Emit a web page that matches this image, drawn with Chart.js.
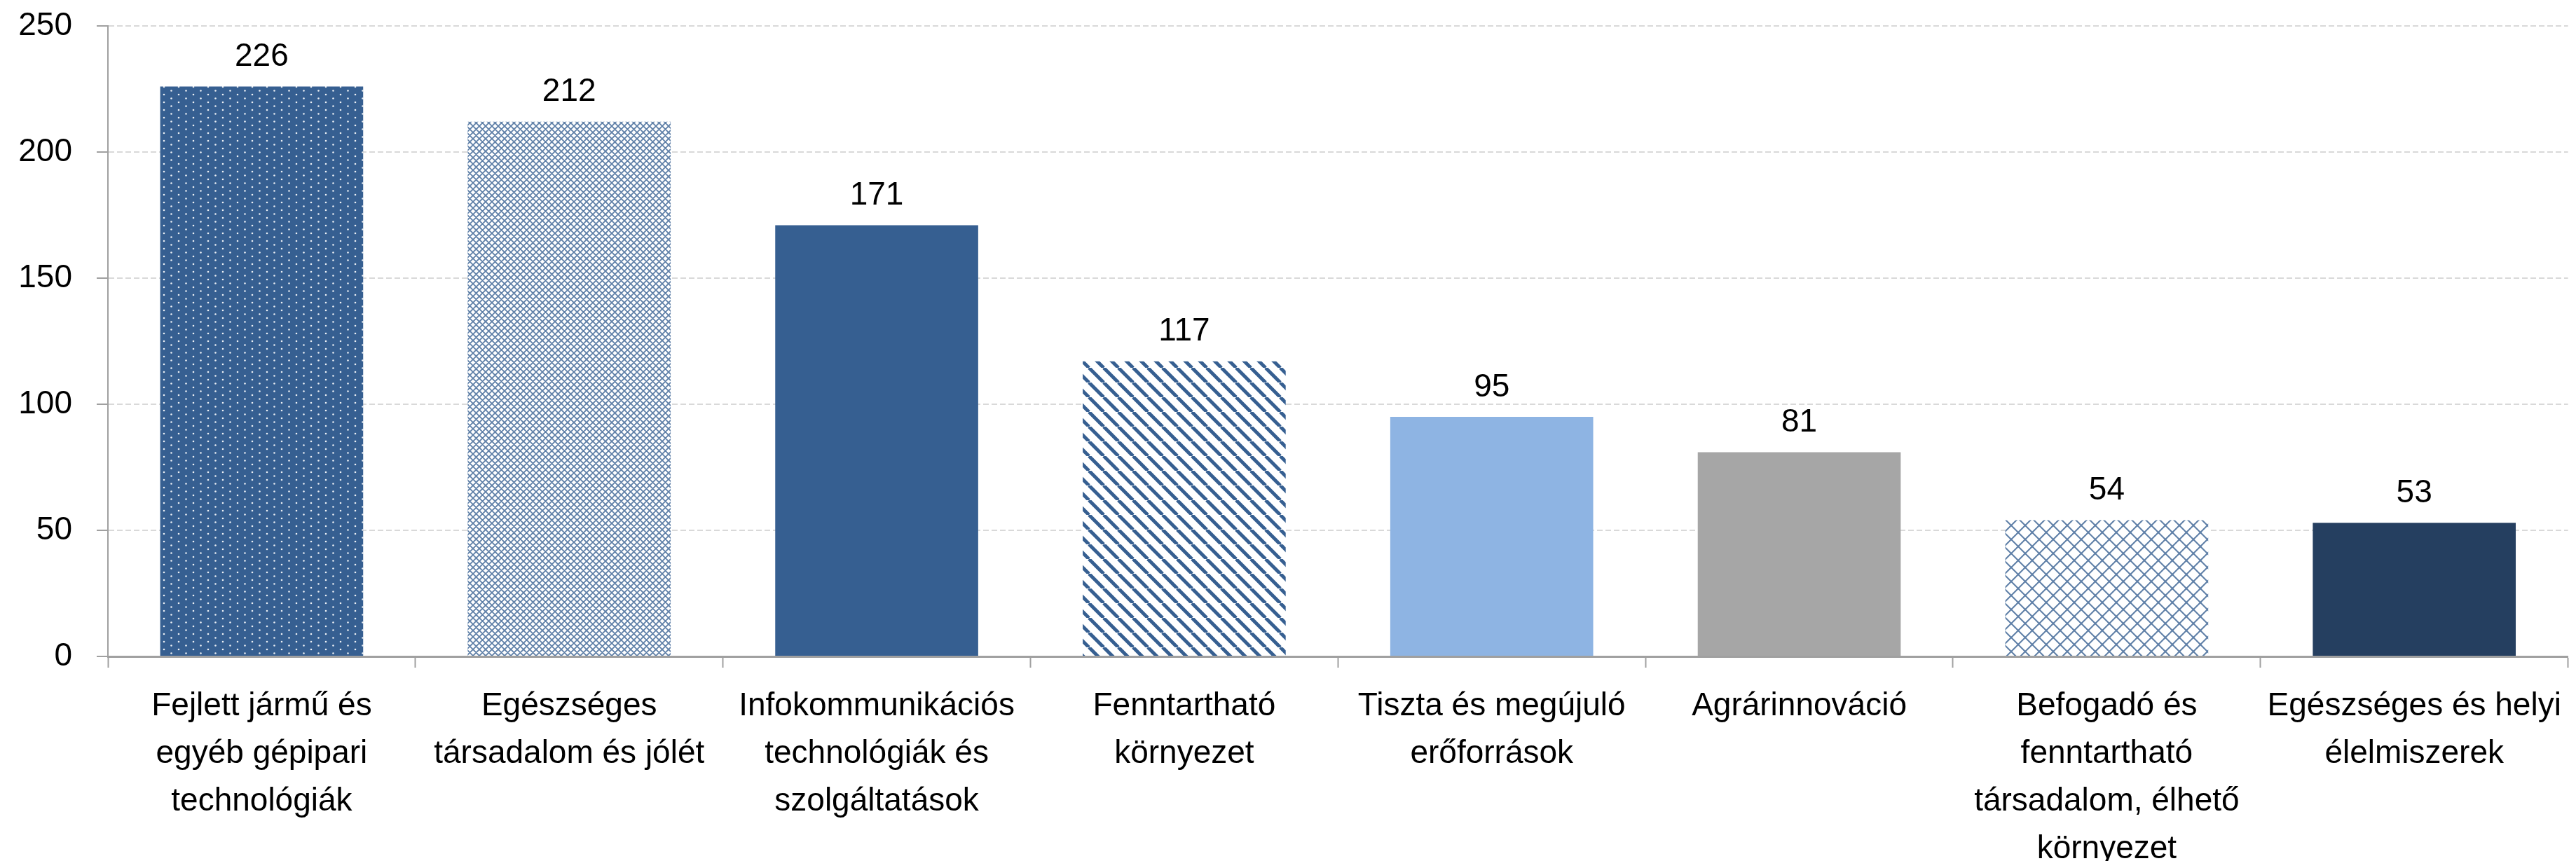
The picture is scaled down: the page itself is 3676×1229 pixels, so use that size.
<!DOCTYPE html>
<html lang="hu">
<head>
<meta charset="UTF-8">
<title>Chart</title>
<script src="https://cdn.jsdelivr.net/npm/chart.js@4.4.0/dist/chart.umd.min.js"></script>
<style>body{margin:0;background:#fff}</style>
</head>
<body>
<canvas id="bar-chart" width="3676" height="1229"></canvas>
<script>
const categories = [
    ["Fejlett jármű és", "egyéb gépipari", "technológiák"],
    ["Egészséges", "társadalom és jólét"],
    ["Infokommunikációs", "technológiák és", "szolgáltatások"],
    ["Fenntartható", "környezet"],
    ["Tiszta és megújuló", "erőforrások"],
    ["Agrárinnováció"],
    ["Befogadó és", "fenntartható", "társadalom, élhető", "környezet"],
    ["Egészséges és helyi", "élelmiszerek"]
];
const values = [226, 212, 171, 117, 95, 81, 54, 53];
const yTicks = [0, 50, 100, 150, 200, 250];

const FONT = '"Liberation Sans", Arial, sans-serif';
const BLUE = '#365F91';

function makePattern(w, h, draw) {
    const c = document.createElement('canvas');
    c.width = w;
    c.height = h;
    const g = c.getContext('2d');
    g.fillStyle = '#fff';
    g.fillRect(0, 0, w, h);
    draw(g, w, h);
    return document.getElementById('bar-chart').getContext('2d').createPattern(c, 'repeat');
}

// white dots on blue
const dots = makePattern(21, 11, (g, w, h) => {
    g.fillStyle = BLUE;
    g.fillRect(0, 0, w, h);
    g.fillStyle = 'rgba(255,255,255,0.9)';
    [[3, 3], [13.5, 8.5]].forEach(([x, y]) => {
        g.beginPath();
        g.arc(x, y, 1.3, 0, Math.PI * 2);
        g.fill();
    });
});

function lattice(size, width, color) {
    return makePattern(size, size, (g, w, h) => {
        g.strokeStyle = color;
        g.lineWidth = width;
        g.beginPath();
        for (let k = -1; k <= 1; k++) {
            g.moveTo(k * w, 0); g.lineTo(k * w + w, h);
            g.moveTo(k * w + w, 0); g.lineTo(k * w, h);
        }
        g.stroke();
    });
}

const fineLattice = lattice(9, 1.8, 'rgba(54,95,145,0.8)');
const wideLattice = lattice(20, 2, 'rgba(54,95,145,0.8)');

const stripes = makePattern(21, 21, (g, w, h) => {
    g.strokeStyle = BLUE;
    g.lineWidth = 5;
    g.beginPath();
    for (let k = -1; k <= 1; k++) {
        g.moveTo(k * w, 0);
        g.lineTo(k * w + w, h);
    }
    g.stroke();
});

const barColors = [dots, fineLattice, BLUE, stripes, '#8EB4E3', '#A6A6A6', wideLattice, '#253F60'];

const valueLabels = {
    id: 'valueLabels',
    afterDatasetsDraw(chart) {
        const ctx = chart.ctx;
        const meta = chart.getDatasetMeta(0);
        ctx.save();
        ctx.font = '46px ' + FONT;
        ctx.fillStyle = '#000';
        ctx.textAlign = 'center';
        ctx.textBaseline = 'middle';
        meta.data.forEach((bar, i) => {
            ctx.fillText(values[i], bar.x, bar.y - 42);
        });
        ctx.restore();
    }
};

new Chart('bar-chart', {
    type: 'bar',
    data: {
        labels: categories,
        datasets: [{
            data: values,
            backgroundColor: barColors,
            borderWidth: 0,
            barPercentage: 0.66,
            categoryPercentage: 1.0
        }]
    },
    options: {
        responsive: false,
        animation: false,
        layout: { padding: { top: 37, right: 2, left: 0, bottom: 0 } },
        plugins: { legend: { display: false }, tooltip: { enabled: false } },
        scales: {
            x: {
                grid: {
                    display: true, drawOnChartArea: false, offset: true,
                    tickLength: 16, tickColor: '#A0A0A0', tickWidth: 2
                },
                border: { display: true, color: '#A0A0A0', width: 3 },
                ticks: {
                    color: '#000', font: { family: FONT, size: 46, lineHeight: 1.48 },
                    padding: 21, maxRotation: 0, autoSkip: false
                },
                afterFit(scale) { scale.height = 292; }
            },
            y: {
                min: 0,
                max: 250,
                afterBuildTicks(scale) { scale.ticks = yTicks.map(v => ({ value: v })); },
                ticks: { color: '#000', font: { family: FONT, size: 46 }, padding: 35 },
                grid: {
                    color: c => (c.tick && c.tick.value === 0) ? 'rgba(0,0,0,0)' : '#D9D9D9',
                    lineWidth: 2, tickLength: 16, tickColor: '#A0A0A0', tickWidth: 2
                },
                border: { display: true, color: '#A0A0A0', width: 2, dash: [8, 4] },
                afterFit(scale) {
                    scale.width = 154;
                    scale.paddingTop = 0;
                    scale.paddingBottom = 0;
                }
            }
        }
    },
    plugins: [valueLabels]
});
</script>
</body>
</html>
